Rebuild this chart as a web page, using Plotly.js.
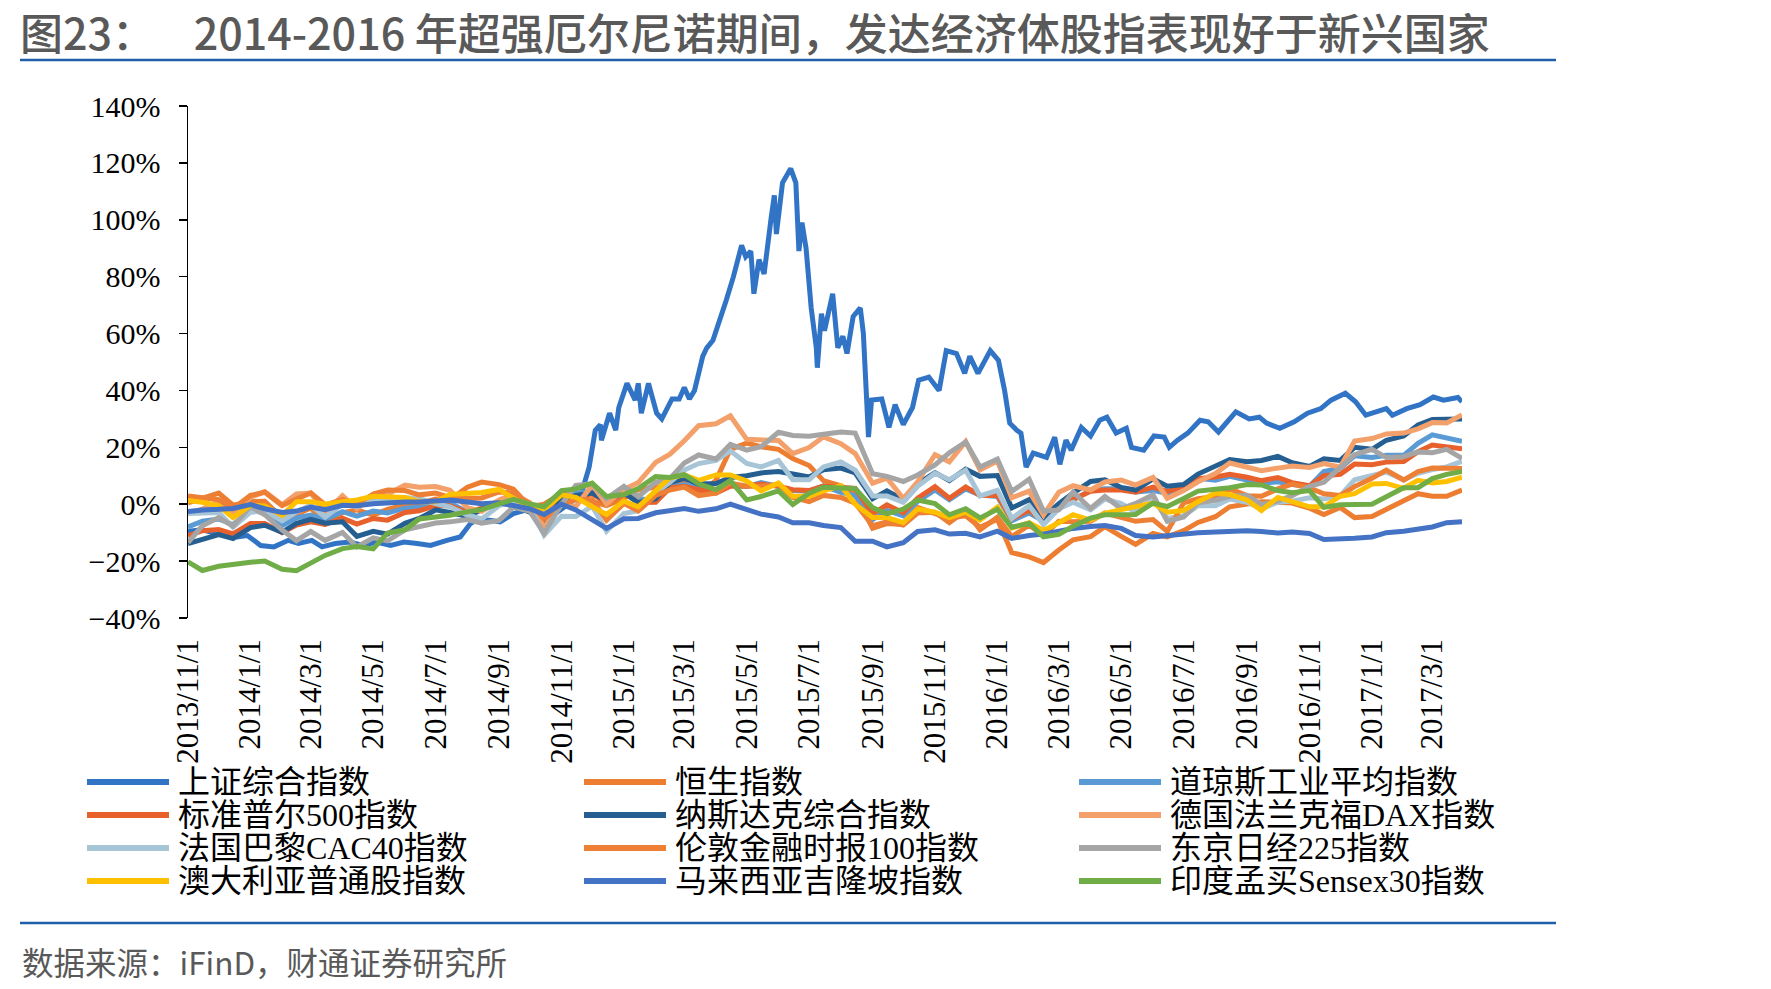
<!DOCTYPE html>
<html>
<head>
<meta charset="utf-8">
<script src="https://cdn.plot.ly/plotly-3.0.1.min.js"></script>
<style>
  html, body { margin: 0; padding: 0; background: #ffffff; }
  #chart { width: 1771px; height: 989px; }
</style>
</head>
<body>
<div id="chart"></div>
<script>
// Cumulative change of major stock indices (%), semi-monthly samples
const dates = [
  '2013-11-01','2013-11-15','2013-12-01','2013-12-15',
  '2014-01-01','2014-01-15','2014-02-01','2014-02-15','2014-03-01','2014-03-15','2014-04-01','2014-04-15',
  '2014-05-01','2014-05-15','2014-06-01','2014-06-15','2014-07-01','2014-07-15','2014-08-01','2014-08-15',
  '2014-09-01','2014-09-15','2014-10-01','2014-10-15','2014-11-01','2014-11-15','2014-12-01','2014-12-15',
  '2015-01-01','2015-01-15','2015-02-01','2015-02-15','2015-03-01','2015-03-15','2015-04-01','2015-04-15',
  '2015-05-01','2015-05-15','2015-06-01','2015-06-15','2015-07-01','2015-07-15','2015-08-01','2015-08-15',
  '2015-09-01','2015-09-15','2015-10-01','2015-10-15','2015-11-01','2015-11-15','2015-12-01','2015-12-15',
  '2016-01-01','2016-01-15','2016-02-01','2016-02-15','2016-03-01','2016-03-15','2016-04-01','2016-04-15',
  '2016-05-01','2016-05-15','2016-06-01','2016-06-15','2016-07-01','2016-07-15','2016-08-01','2016-08-15',
  '2016-09-01','2016-09-15','2016-10-01','2016-10-15','2016-11-01','2016-11-15','2016-12-01','2016-12-15',
  '2017-01-01','2017-01-15','2017-02-01','2017-02-15','2017-03-01','2017-03-15','2017-03-30'
];

// Shanghai Composite has its own, denser sampling
const shDates = [
  '2013-11-01','2013-11-15','2013-11-26','2013-12-10','2013-12-19','2013-12-29','2014-01-11','2014-01-24',
  '2014-02-07','2014-02-17','2014-03-02','2014-03-12','2014-03-25','2014-04-08','2014-04-21','2014-05-04',
  '2014-05-18','2014-05-31','2014-06-13','2014-06-26','2014-07-12','2014-07-25','2014-08-04','2014-08-10',
  '2014-08-23','2014-09-02','2014-09-15','2014-09-28','2014-10-14','2014-10-27','2014-11-13','2014-11-21',
  '2014-11-28','2014-12-04','2014-12-09','2014-12-10','2014-12-18','2014-12-24','2014-12-27','2015-01-04',
  '2015-01-12','2015-01-15','2015-01-18','2015-01-25','2015-02-02','2015-02-07','2015-02-17','2015-02-24',
  '2015-03-01','2015-03-06','2015-03-11','2015-03-19','2015-03-23','2015-03-29','2015-04-11','2015-04-18',
  '2015-04-26','2015-04-30','2015-05-05','2015-05-08','2015-05-13','2015-05-18','2015-05-25','2015-05-28',
  '2015-05-30','2015-06-02','2015-06-05','2015-06-13','2015-06-18','2015-06-21','2015-06-24','2015-06-28',
  '2015-06-30','2015-07-03','2015-07-08','2015-07-09','2015-07-13','2015-07-16','2015-07-24','2015-07-29',
  '2015-08-03','2015-08-07','2015-08-13','2015-08-20','2015-08-23','2015-08-26','2015-08-28','2015-08-31',
  '2015-09-10','2015-09-17','2015-09-23','2015-10-01','2015-10-10','2015-10-16','2015-10-26','2015-11-05',
  '2015-11-12','2015-11-22','2015-11-30','2015-12-05','2015-12-13','2015-12-25','2016-01-02','2016-01-08',
  '2016-01-13','2016-01-20','2016-01-24','2016-01-29','2016-02-05','2016-02-18','2016-02-26','2016-03-02',
  '2016-03-08','2016-03-13','2016-03-23','2016-04-01','2016-04-10','2016-04-17','2016-04-26','2016-05-06',
  '2016-05-11','2016-05-23','2016-06-02','2016-06-12','2016-06-17','2016-06-25','2016-07-05','2016-07-17',
  '2016-07-25','2016-08-04','2016-08-21','2016-09-03','2016-09-13','2016-09-20','2016-10-03','2016-10-17',
  '2016-10-30','2016-11-12','2016-11-22','2016-12-06','2016-12-16','2016-12-26','2017-01-05','2017-01-15',
  '2017-01-21','2017-02-04','2017-02-17','2017-03-02','2017-03-12','2017-03-26','2017-03-30'
];
const shValues = [
  -9.5,-9.0,-10.0,-10.5,-11.5,-11.0,-14.5,-15.0,
  -12.7,-13.8,-12.7,-15.0,-13.8,-13.3,-14.5,-13.3,
  -14.5,-13.3,-13.8,-14.5,-12.7,-11.5,-6.8,-5.6,
  -5.6,-6.2,-3.3,-2.0,-3.3,-3.0,1.4,4.5,
  13.0,26.0,28.0,22.5,32.0,26.0,34.0,42.5,
  36.6,42.5,32.0,42.5,32.0,30.0,37.0,37.0,
  41.0,37.0,40.0,52.0,55.0,57.6,71.7,80.0,
  91.0,87.0,89.0,74.0,86.0,81.0,101.0,108.6,
  95.0,104.0,113.0,118.0,113.0,89.0,99.0,90.0,
  79.0,69.0,55.0,48.0,67.0,61.0,74.0,55.0,
  59.0,53.0,66.0,69.0,60.0,34.0,23.6,36.6,
  37.0,27.0,35.0,28.0,34.0,43.6,44.7,40.0,
  54.0,53.0,46.0,52.0,46.0,54.0,50.6,40.0,
  28.5,26.0,25.0,13.0,18.0,16.5,23.6,14.0,
  22.5,19.0,27.0,24.0,29.5,30.6,25.0,26.7,
  20.0,19.0,24.0,23.6,20.0,22.5,25.0,29.5,
  29.0,25.4,32.5,30.0,30.6,28.5,26.7,29.0,
  32.0,33.6,36.6,39.0,36.0,31.3,32.5,33.6,
  31.3,33.6,35.0,37.7,36.6,37.5,36.0
];

const hangSeng = [
  0.5,2.2,3.9,-0.3,
  0.9,1.0,-4.8,-3.6,-1.3,-6.9,-3.0,-2.0,-3.8,-1.8,-0.3,0.2,1.8,1.6,6.0,7.8,6.9,5.3,-0.9,0.0,3.7,4.1,1.0,-0.5,
  2.0,5.2,5.8,6.6,7.5,3.5,8.4,19.3,21.5,20.2,19.3,16.1,13.6,8.3,6.5,3.7,-8.4,-6.8,-7.1,-1.1,-3.3,-4.9,-4.1,-8.1,
  -5.3,-17.0,-18.5,-20.5,-16.1,-12.5,-11.4,-7.9,-11.3,-14.1,-10.3,-11.5,-9.3,-6.4,-4.4,-0.9,0.1,0.9,0.7,0.4,-1.4,-3.6,-1.1,-4.7,
  -4.3,-1.8,0.8,3.7,2.8,2.8,5.0
];
const dowJones = [
  -8.0,-6.0,-5.2,-7.2,
  -2.3,-2.9,-7.5,-4.8,-3.8,-5.4,-2.6,-4.2,-2.4,-3.1,-1.4,-1.1,-0.1,0.5,-2.8,-1.8,0.7,0.3,-1.0,-4.9,2.5,3.9,4.7,1.2,
  5.0,2.0,1.1,6.2,6.8,5.9,4.3,6.7,6.2,7.6,6.3,4.8,4.6,6.4,4.2,3.0,-5.4,-2.2,-4.1,1.0,5.0,1.6,5.4,3.2,
  2.7,-5.8,-3.1,-5.9,-0.6,1.6,4.8,5.4,5.4,4.3,4.8,3.9,5.7,9.1,8.4,9.8,8.5,7.3,7.9,6.9,6.3,11.5,12.7,17.0,
  16.4,17.2,17.2,21.4,24.4,23.4,22.1
];
const sp500 = [
  -11.1,-9.3,-8.9,-10.4,
  -6.8,-6.8,-10.0,-7.3,-6.2,-7.1,-4.9,-7.0,-5.0,-5.6,-2.9,-2.3,-0.5,-0.5,-2.9,-1.4,1.1,0.2,-1.8,-6.1,1.8,2.9,3.6,0.4,
  3.9,0.6,0.7,5.8,6.2,5.0,3.9,6.3,6.4,7.1,6.3,5.1,4.8,6.4,6.2,5.6,-3.4,-0.2,-3.0,2.1,6.2,2.1,6.1,3.1,
  3.1,-5.1,-2.1,-5.9,-0.2,1.7,4.6,5.0,5.0,4.2,6.0,4.5,6.1,9.0,9.6,10.5,9.5,8.3,9.4,7.6,6.5,10.0,10.5,14.1,
  13.9,14.8,15.0,18.5,20.8,20.3,19.5
];
const nasdaq = [
  -13.8,-12.4,-10.7,-12.1,
  -8.2,-7.4,-9.8,-6.7,-5.3,-6.7,-6.2,-11.3,-9.5,-10.5,-6.7,-5.0,-2.0,-2.9,-4.3,-1.9,0.7,-0.7,-2.8,-7.3,1.8,3.1,3.9,1.2,
  4.1,0.5,1.9,7.6,9.1,7.1,7.3,9.4,10.0,11.0,11.5,10.6,9.6,12.1,12.7,11.0,1.9,4.7,1.6,7.1,11.1,8.3,12.3,9.8,
  10.1,-1.3,1.6,-4.6,0.2,3.9,8.0,8.6,5.9,5.0,8.9,6.3,6.9,10.6,13.5,15.7,14.9,15.4,16.8,14.6,13.3,16.0,15.4,20.0,
  19.3,22.5,24.0,27.9,29.8,29.7,30.0
];
const dax = [
  -3.4,-1.7,0.8,-3.4,
  2.4,4.4,-0.2,3.6,3.9,-2.9,3.0,-1.6,3.0,3.5,6.7,6.0,6.2,4.9,-1.2,-2.5,1.5,3.6,0.6,-8.1,0.0,-0.8,6.8,0.1,
  5.1,7.6,14.7,17.6,22.3,27.6,28.3,31.1,22.8,22.7,22.4,17.8,19.9,23.7,21.3,17.8,7.4,9.2,2.0,7.9,17.4,14.9,22.0,12.1,
  15.2,2.3,4.6,-3.8,4.2,6.5,5.0,7.8,8.5,6.7,9.4,2.1,4.8,7.9,10.8,14.5,13.0,11.8,12.7,13.4,12.9,14.3,13.0,22.2,
  23.1,24.7,25.0,26.5,28.7,28.6,31.4
];
const cac40 = [
  -3.3,-3.1,-2.9,-8.1,
  -2.8,-2.3,-5.8,-2.7,-0.3,-4.5,0.0,-0.9,1.5,1.1,2.3,2.0,0.2,-0.9,-3.8,-5.2,-0.5,0.7,-0.9,-10.9,-4.2,-4.3,-0.7,-9.5,
  -3.3,-2.3,4.1,7.7,12.0,14.3,15.4,18.8,14.3,13.1,15.4,8.6,8.6,13.1,14.9,12.0,2.9,2.9,0.7,6.3,10.9,8.6,12.0,2.9,
  4.9,-5.0,-0.5,-7.2,-1.6,0.7,-2.0,1.8,0.2,-2.7,1.8,-5.0,-4.1,-0.5,-0.5,1.8,0.7,-1.6,0.7,1.1,2.3,1.8,2.9,8.6,
  10.0,11.3,8.6,10.9,12.2,13.1,15.1
];
const ftse100 = [
  2.9,2.2,1.6,-1.6,
  3.1,4.2,-0.5,1.8,4.0,-0.2,1.6,-0.1,3.6,5.0,4.8,3.3,3.9,2.4,2.0,2.2,4.3,3.9,0.2,-5.1,0.0,1.6,1.6,-5.6,
  0.3,-2.4,3.1,5.0,6.0,3.0,3.9,7.4,6.3,6.3,6.9,2.4,0.9,3.1,2.4,0.4,-7.5,-6.2,-7.3,-3.1,-2.8,-6.5,-2.3,-9.0,
  -4.6,-11.4,-7.4,-10.9,-6.0,-6.2,-6.0,-3.1,-4.7,-6.0,-5.4,-9.6,0.5,1.9,2.7,5.4,3.0,2.8,5.4,7.1,5.7,3.7,3.1,6.2,
  9.1,12.0,8.5,11.5,12.7,12.6,12.6
];
const nikkei = [
  -13.5,-7.6,-4.7,-7.7,
  -0.8,-3.7,-9.1,-12.8,-9.6,-12.7,-9.9,-15.0,-11.8,-12.9,-9.0,-8.0,-6.6,-6.2,-5.4,-6.7,-5.7,-1.0,-2.5,-10.2,0.0,6.6,7.2,2.0,
  6.3,2.7,7.6,9.1,14.5,17.3,15.9,21.0,19.0,20.2,25.3,24.2,23.9,24.6,25.4,25.0,10.7,9.8,8.0,10.3,13.8,18.1,21.9,13.1,
  15.9,4.5,8.8,-2.4,-2.0,4.3,-1.5,2.7,-1.6,0.3,3.3,-6.0,-4.5,0.5,1.4,2.8,3.1,-0.1,1.1,3.0,6.3,7.7,12.8,17.4,
  19.3,16.4,16.7,18.4,18.1,19.3,16.1
];
const asx = [
  1.3,0.7,-0.6,-4.7,
  -0.4,-0.6,-3.9,0.9,0.9,0.0,0.9,1.5,2.8,2.8,2.4,0.9,0.9,3.4,3.9,4.1,5.2,2.1,-0.9,-1.9,3.3,2.4,-0.9,-3.6,
  1.1,-0.9,4.7,9.3,10.3,8.4,10.3,10.3,8.2,4.7,7.5,2.8,2.8,4.7,6.5,0.0,-4.7,-4.7,-6.5,-1.7,-2.8,-4.7,-2.8,-5.6,
  -1.0,-8.4,-6.5,-9.2,-6.5,-3.7,-5.6,-3.2,-1.9,-0.9,0.4,-2.8,-2.2,0.9,3.9,3.4,1.5,-2.2,2.4,0.9,-0.9,-0.9,2.8,3.7,
  7.1,7.3,5.6,8.4,7.5,8.0,9.5
];
const klci = [
  -2.6,-2.0,-1.8,-1.5,
  -0.1,-1.6,-2.9,-2.4,-1.0,-1.9,-0.4,-0.5,0.2,0.6,0.8,0.8,1.2,1.5,0.8,0.2,0.5,-0.5,-1.6,-3.6,0.0,-2.0,-5.2,-8.5,
  -5.1,-5.0,-3.0,-2.4,-1.5,-2.5,-1.6,0.0,-2.0,-3.5,-4.5,-6.5,-6.5,-7.5,-8.2,-13.0,-13.0,-15.0,-13.5,-9.6,-9.0,-10.5,-10.2,-11.5,
  -9.5,-12.0,-11.0,-10.5,-9.5,-8.5,-7.8,-7.5,-8.5,-11.0,-11.5,-11.0,-10.8,-10.0,-9.8,-9.5,-9.3,-9.6,-10.1,-9.8,-10.3,-12.4,-12.3,-12.0,
  -11.5,-10.0,-9.5,-8.8,-8.0,-6.5,-6.2
];
const sensex = [
  -20.3,-23.3,-21.8,-21.0,
  -20.4,-20.0,-22.9,-23.4,-20.6,-18.0,-15.6,-14.9,-15.7,-10.1,-9.0,-5.2,-4.5,-3.9,-2.7,-1.9,0.1,1.7,0.1,-0.9,4.8,5.4,7.4,2.7,
  3.4,5.5,9.7,9.4,10.4,7.2,5.1,8.3,1.5,2.7,4.7,-0.1,3.9,6.0,5.7,5.5,-1.2,-3.4,-1.7,1.5,0.2,-3.7,-1.6,-4.8,
  -1.8,-8.1,-6.7,-11.5,-10.6,-7.7,-4.9,-3.7,-3.7,-3.6,0.4,-0.8,2.0,4.6,5.3,5.8,6.9,6.8,4.8,4.0,4.8,-1.1,-0.2,-0.3,
  0.0,2.6,5.8,5.8,9.0,10.5,11.5
];

const seriesNames = [
  '上证综合指数', '恒生指数', '道琼斯工业平均指数',
  '标准普尔500指数', '纳斯达克综合指数', '德国法兰克福DAX指数',
  '法国巴黎CAC40指数', '伦敦金融时报100指数', '东京日经225指数',
  '澳大利亚普通股指数', '马来西亚吉隆坡指数', '印度孟买Sensex30指数'
];
const seriesColors = [
  '#3174C6', '#ED7D31', '#5B9BD5',
  '#E8612C', '#255E91', '#F3A06A',
  '#A7C5D7', '#EE8036', '#A5A5A5',
  '#FFC000', '#4472C4', '#70AD47'
];
const seriesValues = [
  shValues, hangSeng, dowJones,
  sp500, nasdaq, dax,
  cac40, ftse100, nikkei,
  asx, klci, sensex
];

const tickDates = [
  '2013-11-01','2014-01-01','2014-03-01','2014-05-01','2014-07-01','2014-09-01','2014-11-01',
  '2015-01-01','2015-03-01','2015-05-01','2015-07-01','2015-09-01','2015-11-01',
  '2016-01-01','2016-03-01','2016-05-01','2016-07-01','2016-09-01','2016-11-01',
  '2017-01-01','2017-03-01'
];
const tickLabels = [
  '2013/11/1','2014/1/1','2014/3/1','2014/5/1','2014/7/1','2014/9/1','2014/11/1',
  '2015/1/1','2015/3/1','2015/5/1','2015/7/1','2015/9/1','2015/11/1',
  '2016/1/1','2016/3/1','2016/5/1','2016/7/1','2016/9/1','2016/11/1',
  '2017/1/1','2017/3/1'
];

// ---- page geometry (pixels) ----
const W = 1771, H = 989;
const M = { l: 188, r: 309, t: 106, b: 371 };
const plotW = W - M.l - M.r;
const plotH = H - M.t - M.b;
const px2x = px => (px - M.l) / plotW;
const px2y = py => (H - M.b - py) / plotH;
const yRange = [-40, 140];
const xRange = ['2013-11-01', '2017-03-30'];

const serif = '"Liberation Serif", "Times New Roman", "Noto Sans CJK SC", serif';
const sans = '"Noto Sans CJK SC", "Noto Sans", sans-serif';

const traces = seriesNames.map((name, i) => ({
  type: 'scatter',
  mode: 'lines',
  name: name,
  x: i === 0 ? shDates : dates,
  y: seriesValues[i],
  line: { color: seriesColors[i], width: 5 },
  showlegend: false,
  hoverinfo: 'skip'
}));

// legend drawn as a 3-column grid below the axis labels
const legendCols = [87, 584, 1079];
const legendRows = [782, 815, 848, 881];
const legendLineLen = 82;
const shapes = [];
const annotations = [];
seriesNames.forEach((name, i) => {
  const c = i % 3, r = Math.floor(i / 3);
  const x0 = legendCols[c];
  const yy = legendRows[r];
  shapes.push({
    type: 'line', xref: 'paper', yref: 'paper',
    x0: px2x(x0), x1: px2x(x0 + legendLineLen), y0: px2y(yy), y1: px2y(yy),
    line: { color: seriesColors[i], width: 6 }
  });
  annotations.push({
    xref: 'paper', yref: 'paper', x: px2x(x0 + legendLineLen + 7), y: px2y(yy),
    xanchor: 'left', yanchor: 'middle', showarrow: false,
    text: name, font: { family: serif, size: 32, color: '#000000' }
  });
});

// rules under the title and above the source note
[60, 923].forEach(py => {
  shapes.push({
    type: 'line', xref: 'paper', yref: 'paper',
    x0: px2x(20), x1: px2x(1556), y0: px2y(py), y1: px2y(py),
    line: { color: '#1F5FAA', width: 2.5 }
  });
});

annotations.push({
  xref: 'paper', yref: 'paper', x: px2x(20), y: px2y(961),
  xanchor: 'left', yanchor: 'middle', showarrow: false,
  text: '数据来源：iFinD，财通证券研究所',
  font: { family: sans, size: 31.5, color: '#595959' }
});

const layout = {
  width: W, height: H,
  margin: M,
  paper_bgcolor: '#ffffff',
  plot_bgcolor: '#ffffff',
  showlegend: false,
  title: {
    text: '图23：\u00a0\u00a0\u00a0\u00a02014-2016 年超强厄尔尼诺期间，发达经济体股指表现好于新兴国家',
    font: { family: sans, size: 43, color: '#595959', weight: 500 },
    xref: 'container', yref: 'container',
    x: 20 / W, xanchor: 'left',
    y: 1 - 34.5 / H, yanchor: 'middle'
  },
  xaxis: {
    type: 'date',
    range: xRange,
    tickmode: 'array',
    tickvals: tickDates,
    ticktext: tickLabels,
    tickangle: -90,
    ticks: '',
    showline: false,
    showgrid: false,
    zeroline: false,
    ticklabelstandoff: 14,
    tickfont: { family: serif, size: 31, color: '#000000' }
  },
  // axis line crossing at 0% with its tick marks
  xaxis2: {
    type: 'date',
    overlaying: 'x',
    anchor: 'free',
    position: (0 - yRange[0]) / (yRange[1] - yRange[0]),
    range: xRange,
    tickmode: 'array',
    tickvals: tickDates,
    showticklabels: false,
    ticks: 'outside',
    ticklen: 6,
    tickwidth: 1.5,
    tickcolor: '#000000',
    showline: true,
    linecolor: '#000000',
    linewidth: 1.5,
    showgrid: false,
    zeroline: false,
    layer: 'below traces'
  },
  yaxis: {
    range: yRange,
    tickmode: 'linear',
    tick0: -40,
    dtick: 20,
    ticksuffix: '%',
    ticks: 'outside',
    ticklen: 8,
    tickwidth: 1.5,
    tickcolor: '#000000',
    showline: true,
    linecolor: '#000000',
    linewidth: 1.5,
    showgrid: false,
    zeroline: false,
    ticklabelstandoff: 12,
    tickfont: { family: serif, size: 30, color: '#000000' }
  },
  shapes: shapes,
  annotations: annotations
};

Plotly.newPlot('chart', traces, layout, { displayModeBar: false, staticPlot: true });
</script>
</body>
</html>
